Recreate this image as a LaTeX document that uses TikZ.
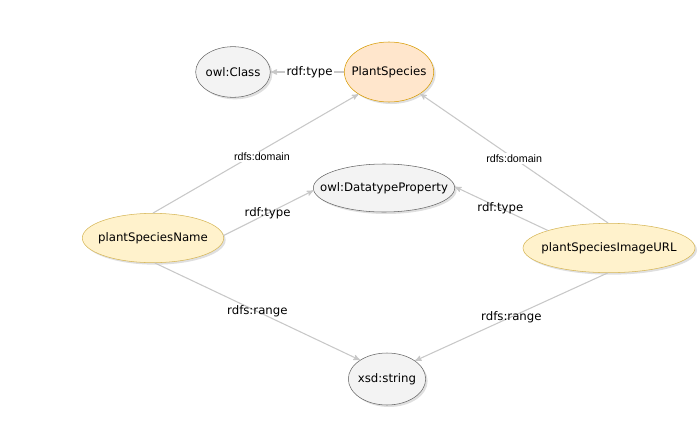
\documentclass[tikz,border=0pt]{standalone}
\usepackage{fontspec}
\setmainfont{DejaVu Sans}
\newfontfamily\arialfont{Liberation Sans}
\usetikzlibrary{arrows,shadows,shapes.geometric}

\definecolor{greyfill}{HTML}{F3F3F3}
\definecolor{greyline}{HTML}{666666}
\definecolor{orangefill}{HTML}{FFE6CC}
\definecolor{orangeline}{HTML}{D79B00}
\definecolor{yellowfill}{HTML}{FFF2CC}
\definecolor{yellowline}{HTML}{D6B656}
\definecolor{edgegrey}{HTML}{C8C8C8}

\newcommand{\restext}[1]{\makebox[0pt]{#1}}

\begin{document}
\begin{tikzpicture}[
	>=stealth',
	x=0.75pt, y=-0.75pt,
	font=\fontsize{8.8}{10}\selectfont,
	res/.style={draw,ellipse,inner sep=0,drop shadow={opacity=0.25,shadow xshift=1.5pt,shadow yshift=-1.5pt}},
	plain/.style={res,fill=greyfill,draw=greyline},
	cls/.style={res,fill=orangefill,draw=orangeline},
	prop/.style={res,fill=yellowfill,draw=yellowline},
	link/.style={->,draw=edgegrey,line width=0.8pt},
	lbl/.style={text=black,inner sep=1pt},
	small/.style={lbl,fill=white,font=\arialfont\fontsize{8}{9}\selectfont}
	]
	\useasboundingbox (0,0) rectangle (698,435);
	% classes and datatypes
	\node [plain,minimum width=56pt,minimum height=38pt] (owlclass) at (233,72) {\restext{owl:Class}};
	\node [cls,minimum width=67pt,minimum height=45pt] (species) at (389,72) {\restext{PlantSpecies}};
	\node [plain,minimum width=106pt,minimum height=36pt] (dtprop) at (384,188) {\restext{owl:DatatypeProperty}};
	\node [plain,minimum width=58pt,minimum height=39pt] (xsdstring) at (387,379) {\restext{xsd:string}};
	% properties
	\node [prop,minimum width=106pt,minimum height=37pt] (name) at (153,238) {\restext{plantSpeciesName}};
	\node [prop,minimum width=129pt,minimum height=37pt] (imageurl) at (609,248) {\restext{plantSpeciesImageURL}};
	% edges
	\draw[link] (species) -- (owlclass) node[lbl,fill=white,pos=0.47] {rdf:type};
	\draw[link] (name.90) -- (species.216) node[small,pos=0.53,below=1pt] {rdfs:domain};
	\draw[link] (imageurl.92) -- (species.-35) node[small,pos=0.5] {rdfs:domain};
	\draw[link] (name.2) -- (dtprop.182) node[lbl,pos=0.49] {rdf:type};
	\draw[link] (imageurl.164) -- (dtprop.1) node[lbl,pos=0.51] {rdf:type};
	\draw[link] (name.-86) -- (xsdstring.145) node[lbl,pos=0.5] {rdfs:range};
	\draw[link] (imageurl.-93) -- (xsdstring.33) node[lbl,pos=0.5] {rdfs:range};
\end{tikzpicture}
\end{document}
